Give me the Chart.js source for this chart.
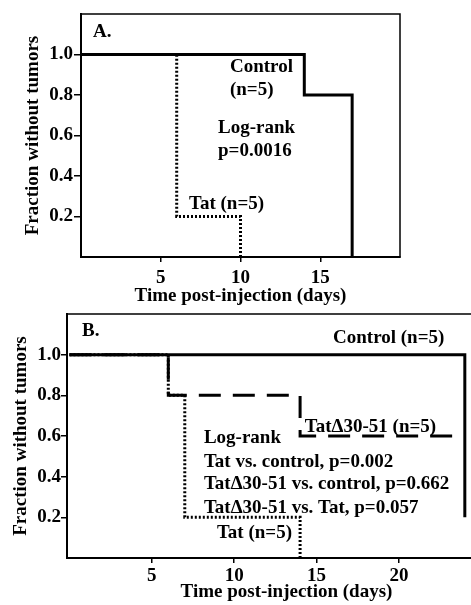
<!DOCTYPE html>
<html>
<head>
<meta charset="utf-8">
<script src="https://cdn.jsdelivr.net/npm/chart.js@4"></script>
<style>
  html, body { margin: 0; padding: 0; background: #fff; overflow: hidden; }
  #chartA { position: absolute; left: 0; top: 0; }
  #chartB { position: absolute; left: 0; top: 300px; }
</style>
</head>
<body>
<canvas id="chartA" width="471" height="310"></canvas>
<canvas id="chartB" width="520" height="305"></canvas>
<script>
// Panel A: Kaplan-Meier steps (day, fraction without tumors)
const daysControlA = [0, 14, 17];
const fracControlA = [1.0, 0.8, 0.0];
const daysTatA = [0, 6, 10];
const fracTatA = [1.0, 0.2, 0.0];

// Panel B
const daysControlB = [0, 24];
const fracControlB = [1.0, 0.2];
const daysDeltaB = [0, 6, 14, 23.3];
const fracDeltaB = [1.0, 0.8, 0.6, 0.6];
const daysTatB = [0, 6, 7, 14];
const fracTatB = [1.0, 0.8, 0.2, 0.0];

const yTicks = [0.2, 0.4, 0.6, 0.8, 1.0];
const xTicksA = [5, 10, 15];
const xTicksB = [5, 10, 15, 20];

const textsA = ['A.', 'Control', '(n=5)', 'Log-rank', 'p=0.0016', 'Tat (n=5)'];
const textsB = ['B.', 'Control (n=5)', 'Tat\u039430-51 (n=5)', 'Log-rank',
  'Tat vs. control, p=0.002', 'Tat\u039430-51 vs. control, p=0.662',
  'Tat\u039430-51 vs. Tat, p=0.057', 'Tat (n=5)'];

Chart.defaults.font.family = '"Liberation Serif", "Times New Roman", serif';
Chart.defaults.font.size = 19;
Chart.defaults.font.weight = 'bold';
Chart.defaults.color = '#000';

const FONT = 'bold 19px "Liberation Serif", "Times New Roman", serif';

function pts(xs, ys) {
    return xs.map((x, i) => ({ x: x, y: ys[i] }));
}

function boxPlugin() {
    return {
        id: 'box',
        afterDraw(chart) {
            const { ctx, chartArea: a } = chart;
            ctx.save();
            ctx.strokeStyle = '#000';
            ctx.lineWidth = 1.5;
            ctx.strokeRect(a.left, a.top, a.right - a.left, a.bottom - a.top);
            ctx.restore();
        }
    };
}

// text notes placed in data coordinates
function notesPlugin(items) {
    return {
        id: 'notes',
        afterDatasetsDraw(chart) {
            const { ctx, scales: { x, y } } = chart;
            ctx.save();
            ctx.font = FONT;
            ctx.fillStyle = '#000';
            ctx.textAlign = 'left';
            ctx.textBaseline = 'alphabetic';
            items.forEach(n => ctx.fillText(n.text, x.getPixelForValue(n.x), y.getPixelForValue(n.y)));
            ctx.restore();
        }
    };
}

function makeScales(o) {
    return {
        x: {
            type: 'linear',
            min: o.xMin,
            max: o.xMax,
            afterBuildTicks: s => { s.ticks = o.xTicks.map(v => ({ value: v })); },
            afterFit: s => { s.height = o.xHeight; },
            grid: { drawOnChartArea: false, drawTicks: true, tickLength: 5, color: '#000', lineWidth: 1.5 },
            border: { color: '#000', width: 2 },
            ticks: { padding: o.xTickPad, callback: v => String(v) },
            title: {
                display: true,
                text: 'Time post-injection (days)',
                padding: { top: 0, bottom: o.xTitlePad }
            }
        },
        y: {
            type: 'linear',
            min: 0,
            max: 1.2,
            afterBuildTicks: s => { s.ticks = yTicks.map(v => ({ value: v })); },
            afterFit: s => { s.width = o.yWidth; },
            grid: { drawOnChartArea: false, drawTicks: true, tickLength: o.yTickLen, color: '#000', lineWidth: 1.5 },
            border: { color: '#000', width: 2 },
            ticks: { padding: o.yTickPad, callback: v => v.toFixed(1) },
            title: {
                display: true,
                text: 'Fraction without tumors',
                padding: { top: o.yTitlePad, bottom: 0 }
            }
        }
    };
}

const solid = { borderColor: '#000', borderWidth: 3, pointRadius: 0, stepped: 'before', fill: false };
const dotted = Object.assign({}, solid, { borderDash: [2, 2] });
const dashed = Object.assign({}, solid, { borderDash: [22, 12] });

new Chart(document.getElementById('chartA'), {
    type: 'line',
    data: {
        datasets: [
            Object.assign({ label: 'Control', data: pts(daysControlA, fracControlA) }, solid),
            Object.assign({ label: 'Tat', data: pts(daysTatA, fracTatA) }, dotted)
        ]
    },
    options: {
        responsive: false,
        animation: false,
        layout: { padding: { top: 14, right: 71, bottom: 0, left: 0 } },
        plugins: { legend: { display: false }, tooltip: { enabled: false } },
        scales: makeScales({
            xMin: 0, xMax: 20, xTicks: xTicksA, xHeight: 53, xTickPad: 5, xTitlePad: 3,
            yWidth: 81, yTickLen: 7, yTickPad: 1, yTitlePad: 22
        })
    },
    plugins: [boxPlugin(), notesPlugin([
        { text: textsA[0], x: 0.75, y: 1.086 },
        { text: textsA[1], x: 9.34, y: 0.914 },
        { text: textsA[2], x: 9.34, y: 0.80 },
        { text: textsA[3], x: 8.59, y: 0.612 },
        { text: textsA[4], x: 8.59, y: 0.499 },
        { text: textsA[5], x: 6.77, y: 0.237 }
    ])]
});

new Chart(document.getElementById('chartB'), {
    type: 'line',
    data: {
        datasets: [
            Object.assign({ label: 'Control', data: pts(daysControlB, fracControlB) }, solid),
            Object.assign({ label: 'Tat\u039430-51', data: pts(daysDeltaB, fracDeltaB) }, dashed),
            Object.assign({ label: 'Tat', data: pts(daysTatB, fracTatB) }, dotted)
        ]
    },
    options: {
        responsive: false,
        animation: false,
        layout: { padding: { top: 14, right: 14, bottom: 0, left: 0 } },
        plugins: { legend: { display: false }, tooltip: { enabled: false } },
        scales: makeScales({
            xMin: -0.15, xMax: 26.5, xTicks: xTicksB, xHeight: 47, xTickPad: 2, xTitlePad: 2,
            yWidth: 67, yTickLen: 6, yTickPad: 0, yTitlePad: 10
        })
    },
    plugins: [boxPlugin(), notesPlugin([
        { text: textsB[0], x: 0.76, y: 1.092 },
        { text: textsB[1], x: 16.0, y: 1.058 },
        { text: textsB[2], x: 14.29, y: 0.620 },
        { text: textsB[3], x: 8.16, y: 0.566 },
        { text: textsB[4], x: 8.16, y: 0.448 },
        { text: textsB[5], x: 8.16, y: 0.339 },
        { text: textsB[6], x: 8.16, y: 0.221 },
        { text: textsB[7], x: 8.95, y: 0.098 }
    ])]
});
</script>
</body>
</html>
